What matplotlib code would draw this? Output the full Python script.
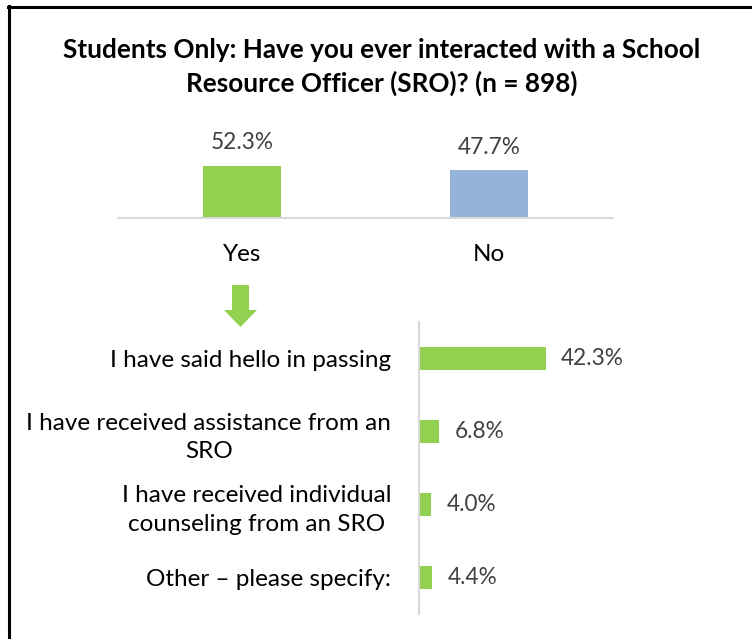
import matplotlib
matplotlib.use("Agg")
import matplotlib.pyplot as plt
from matplotlib.lines import Line2D
from matplotlib.patches import Polygon

plt.rcParams['font.family'] = ['Lato', 'DejaVu Sans']

# Survey data
title = "Students Only: Have you ever interacted with a School\nResource Officer (SRO)? (n = 898)"
top_categories = ["Yes", "No"]
top_values = [52.3, 47.7]
top_colors = ["#92D050", "#95B3D7"]

sub_categories = [
    "I have said hello in passing",
    "I have received assistance from an\nSRO",
    "I have received individual\ncounseling from an SRO",
    "Other \u2013 please specify:",
]
sub_values = [42.3, 6.8, 4.0, 4.4]
sub_color = "#92D050"

W, H = 752, 639
fig = plt.figure(figsize=(W / 100, H / 100), dpi=100)


def fx(px):
    return px / W


def fy(py):
    return 1 - py / H


# Frame lines along the top and left edges
fig.add_artist(Line2D([fx(8), 1], [fy(6.5), fy(6.5)], color="black", lw=2.2,
                      transform=fig.transFigure))
fig.add_artist(Line2D([fx(9), fx(9)], [fy(6), 0], color="black", lw=2.2,
                      transform=fig.transFigure))

fig.text(fx(382), fy(67), title, ha="center", va="center", fontsize=18.8,
         fontweight="bold", linespacing=1.42, color="black")

text_gray = "#404040"
label_size = 17.5
value_size = 16.3

# Top: Yes / No column chart
ax1 = fig.add_axes([fx(118), fy(218), fx(613) - fx(118), (60) / H])
x = range(len(top_categories))
ax1.bar(x, top_values, width=0.315, color=top_colors)
ax1.set_xlim(-0.5, 1.5)
ax1.set_ylim(0, 60)
for xi, v in zip(x, top_values):
    ax1.annotate(f"{v:.1f}%", (xi, v), xytext=(0, 16.5), textcoords="offset points",
                 ha="center", va="center", fontsize=value_size, color=text_gray)
ax1.set_xticks(list(x))
ax1.set_xticklabels(top_categories, fontsize=label_size, color="black")
ax1.tick_params(axis="x", length=0, pad=19)
ax1.set_yticks([])
for s in ["top", "left", "right"]:
    ax1.spines[s].set_visible(False)
ax1.spines["bottom"].set_color("#D9D9D9")
ax1.spines["bottom"].set_linewidth(1.5)
ax1.patch.set_visible(False)

# Down arrow below "Yes"
arrow_px = [(232, 285), (249, 285), (249, 310), (257, 310), (240.5, 327),
            (224, 310), (232, 310)]
fig.add_artist(Polygon([(fx(a), fy(b)) for a, b in arrow_px], closed=True,
                       facecolor="#92D050", edgecolor="none",
                       transform=fig.transFigure))

# Bottom: breakdown of interactions
ax2 = fig.add_axes([fx(419), fy(614), 300 / W, (614 - 322) / H])
y = range(len(sub_categories))
ax2.barh(y, sub_values, height=0.315, color=sub_color)
ax2.set_ylim(len(sub_categories) - 0.5, -0.5)
ax2.set_xlim(0, 100)
for yi, v in zip(y, sub_values):
    ax2.annotate(f"{v:.1f}%", (v, yi), xytext=(11, 0), textcoords="offset points",
                 ha="left", va="center", fontsize=value_size, color=text_gray)
ax2.set_yticks(list(y))
ax2.set_yticklabels(sub_categories, fontsize=label_size, color="black",
                    multialignment="center", linespacing=1.45)
ax2.tick_params(axis="y", length=0, pad=20)
ax2.set_xticks([])
for s in ["top", "bottom", "right"]:
    ax2.spines[s].set_visible(False)
ax2.spines["left"].set_color("#D9D9D9")
ax2.spines["left"].set_linewidth(1.5)
ax2.patch.set_visible(False)

fig.savefig("out.png", dpi=100, facecolor="white")
